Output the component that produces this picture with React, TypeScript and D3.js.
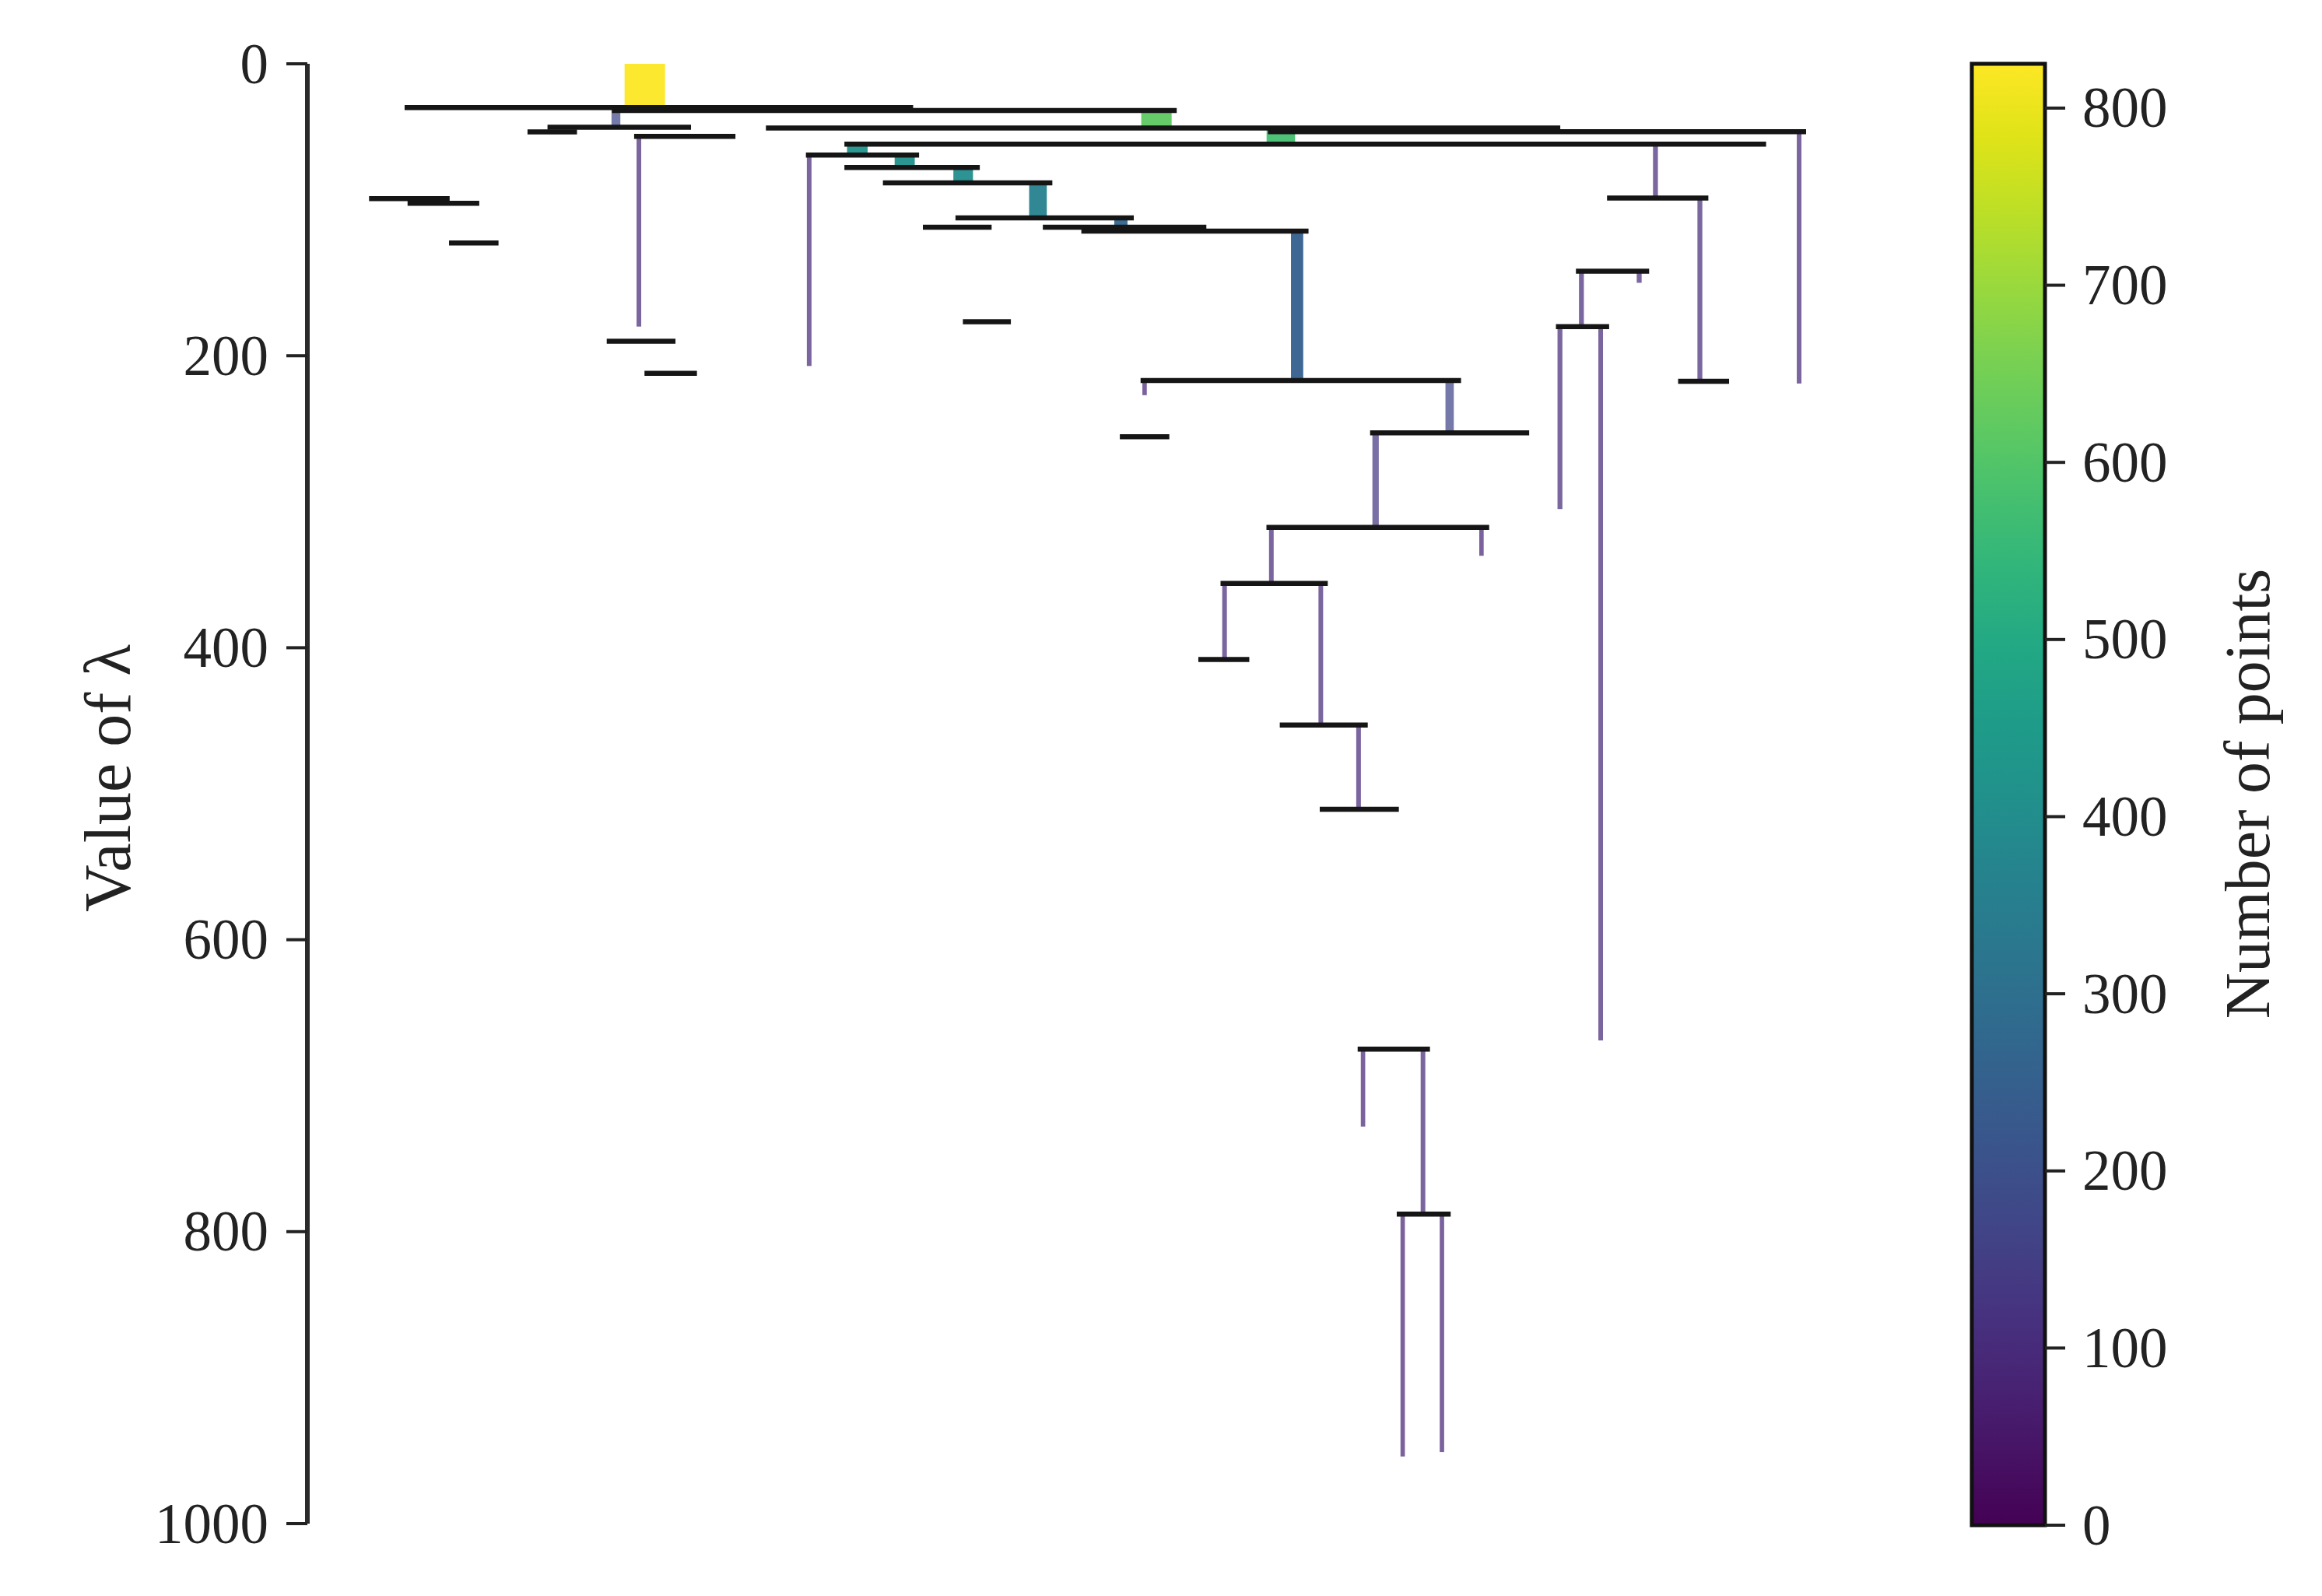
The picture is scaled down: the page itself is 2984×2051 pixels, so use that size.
import React from 'react'
import * as d3 from 'd3'

const LAMBDA_TICKS = [0, 200, 400, 600, 800, 1000]
const POINT_TICKS = [0, 100, 200, 300, 400, 500, 600, 700, 800]
const POINT_MAX = 825

// cluster branches: [x position, lambda birth, lambda death, number of points]
const BRANCHES: [number, number, number, number][] = [
  [230.5, 0, 30, 825],
  [211, 31, 43.5, 180],
  [576, 32, 44, 620],
  [660, 44, 55, 580],
  [374, 55, 62.5, 420],
  [406, 62.5, 71, 410],
  [445.5, 71, 81.6, 400],
  [496, 81.6, 105.6, 360],
  [552, 105.6, 112, 270],
  [671, 114.6, 217, 250],
  [226.5, 49.7, 180, 95],
  [341.5, 62.5, 207, 95],
  [913, 55, 92, 100],
  [943, 92, 217.5, 100],
  [1010, 46.5, 219, 95],
  [568, 217, 227, 90],
  [774, 217, 252.8, 170],
  [724, 252.8, 317.6, 130],
  [795.5, 317.6, 337, 90],
  [653.6, 317.6, 356, 95],
  [622, 356, 408, 95],
  [687, 356, 453, 95],
  [712.5, 453, 510.6, 95],
  [863, 142, 180, 100],
  [902, 142, 150, 100],
  [848.5, 180, 305, 100],
  [876, 180, 669, 95],
  [715.5, 675, 728, 90],
  [756, 675, 788, 95],
  [742.3, 788, 954, 90],
  [768.8, 788, 951, 90],
]

// split lines: [lambda, x from, x to]
const SPLITS: [number, number, number][] = [
  [30, 70, 410],
  [32, 210, 588],
  [44, 314, 847],
  [46.5, 653, 1013],
  [55, 367, 986],
  [62.5, 341, 414],
  [71, 367, 455],
  [81.6, 393, 504],
  [105.6, 442, 559],
  [112, 420, 463],
  [112, 501, 608],
  [114.6, 527, 677],
  [176.7, 447, 476],
  [43.4, 166.5, 260],
  [46.6, 153, 183],
  [49.7, 225, 290],
  [92.3, 46, 97],
  [95.5, 72, 117],
  [122.7, 100, 130],
  [190, 206.5, 249.5],
  [212, 232, 264],
  [92, 882, 947],
  [217.5, 930, 961],
  [217, 567, 780],
  [255.5, 553, 583],
  [252.8, 722, 826],
  [317.6, 652, 799],
  [356, 621, 690],
  [408, 606, 637],
  [453, 661, 717],
  [510.6, 688, 738],
  [142, 861, 907],
  [180, 847.5, 880],
  [675, 713.6, 759],
  [788, 740, 773],
]

const FONT = '"Liberation Serif", "DejaVu Serif", serif'
const INK = '#222'

export default function App() {
  const width = 2984
  const height = 2051

  const x = d3.scaleLinear().domain([0, 1000]).range([390, 2293])
  const y = d3.scaleLinear().domain([0, 1000]).range([82, 1958])
  const barW = d3.scaleLinear().domain([0, POINT_MAX]).range([0, 52])
  const color = (n: number) => d3.interpolateViridis(n / POINT_MAX)

  const cb = { x0: 2534, x1: 2628 }
  const cy = d3.scaleLinear().domain([0, POINT_MAX]).range([1960, 82])
  const stops = d3.range(0, 1.0001, 0.05)

  const axisX = 395

  return (
    <>
      <style>{`body{margin:0;background:#fff}`}</style>
      <svg width={width} height={height} style={{ display: 'block' }}>
        <defs>
          <linearGradient id="viridis" x1="0" y1="1" x2="0" y2="0">
            {stops.map((t) => (
              <stop key={t} offset={t} stopColor={d3.interpolateViridis(t)} />
            ))}
          </linearGradient>
        </defs>

        {/* branches */}
        {BRANCHES.map(([p, l0, l1, n], i) => {
          const w = barW(n)
          return (
            <rect
              key={'b' + i}
              x={x(p) - w / 2}
              y={y(l0)}
              width={w}
              height={y(l1) - y(l0)}
              fill={color(n)}
              fillOpacity={n < 200 ? 0.72 : 0.95}
            />
          )
        })}

        {/* splits */}
        {SPLITS.map(([l, a, b], i) => (
          <line
            key={'s' + i}
            x1={x(a)}
            x2={x(b)}
            y1={y(l)}
            y2={y(l)}
            stroke="#151515"
            strokeWidth={6.5}
            strokeLinecap="square"
          />
        ))}

        {/* y axis */}
        <line x1={axisX} x2={axisX} y1={y(0)} y2={y(1000)} stroke="#2a2a2a" strokeWidth={6} />
        {LAMBDA_TICKS.map((t) => (
          <g key={'yt' + t}>
            <line x1={axisX - 27} x2={axisX} y1={y(t)} y2={y(t)} stroke={INK} strokeWidth={4} />
            <text
              x={axisX - 50}
              y={y(t)}
              textAnchor="end"
              dominantBaseline="central"
              fontFamily={FONT}
              fontSize={73}
              fill={INK}
            >
              {t}
            </text>
          </g>
        ))}
        <text
          transform={`translate(138,1000) rotate(-90)`}
          textAnchor="middle"
          dominantBaseline="central"
          fontFamily={FONT}
          fontSize={84}
          fill={INK}
        >
          Value of λ
        </text>

        {/* colorbar */}
        <rect
          x={cb.x0}
          y={cy(POINT_MAX)}
          width={cb.x1 - cb.x0}
          height={cy(0) - cy(POINT_MAX)}
          fill="url(#viridis)"
          stroke="#111"
          strokeWidth={5}
        />
        {POINT_TICKS.map((t) => (
          <g key={'ct' + t}>
            <line x1={cb.x1} x2={cb.x1 + 26} y1={cy(t)} y2={cy(t)} stroke={INK} strokeWidth={4} />
            <text
              x={cb.x1 + 48}
              y={cy(t)}
              dominantBaseline="central"
              fontFamily={FONT}
              fontSize={73}
              fill={INK}
            >
              {t}
            </text>
          </g>
        ))}
        <text
          transform={`translate(2888,1020) rotate(-90)`}
          textAnchor="middle"
          dominantBaseline="central"
          fontFamily={FONT}
          fontSize={82}
          fill={INK}
        >
          Number of points
        </text>
      </svg>
    </>
  )
}
